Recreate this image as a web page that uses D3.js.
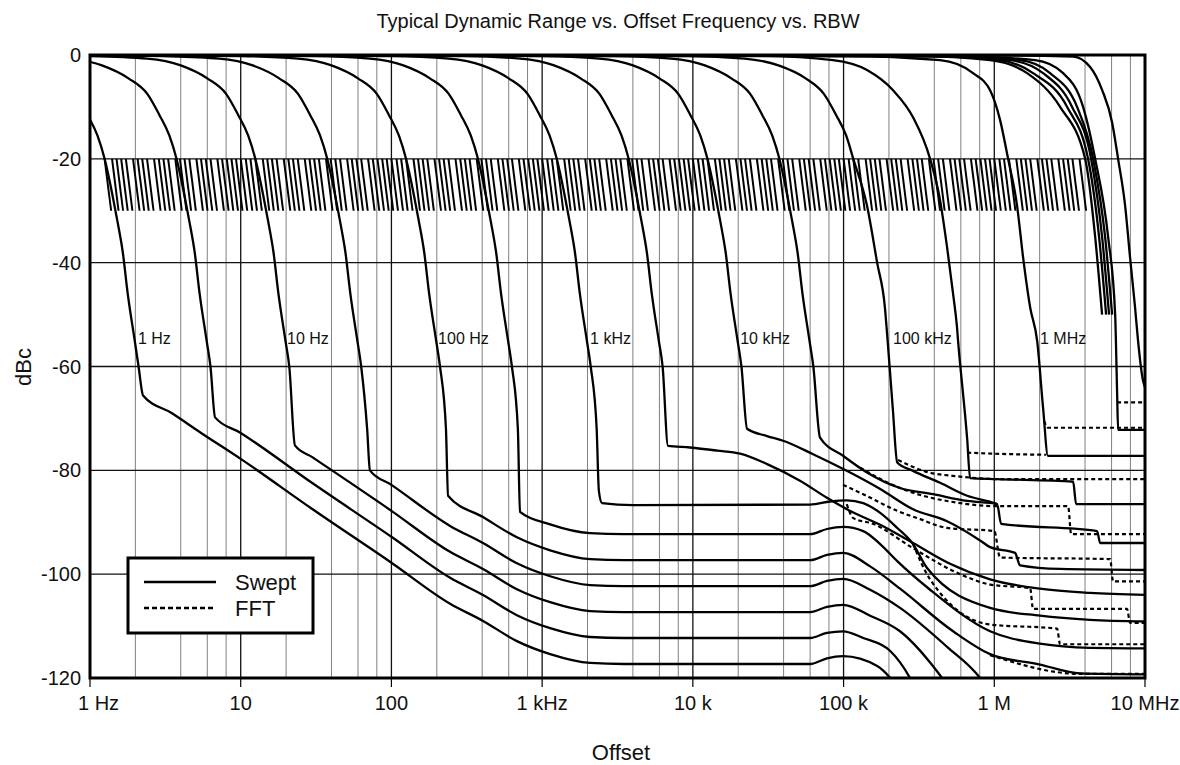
<!DOCTYPE html>
<html>
<head>
<meta charset="utf-8">
<script src="https://cdn.jsdelivr.net/npm/d3@7"></script>
<style>
  body { margin: 0; background: #fff; }
  svg { display: block; font-family: Arial, "Liberation Sans", sans-serif; }
</style>
</head>
<body>
<div id="chart"></div>
<script>
// ---- data: [offset Hz, dBc] ----
const swept1Hz = [[0.1,-0.2],[0.24,-0.7],[0.4,-2],[0.6,-4.5],[0.8,-7.5],[0.96,-11.5],[1.12,-15.5],[1.25,-20],[1.41,-27],[1.52,-32],[1.65,-38],[1.78,-46],[1.98,-55],[2.1,-60],[2.25,-65.6],
  [3.5,-69],[5.4,-72.7],[10,-77.8],[30,-87.5],[100,-97.8],[245,-105.7],[405,-109],[680,-112.9],[1130,-115.4],[2080,-117.1],[3500,-117.3],[60000,-117.3],[77600,-116.2],[99300,-115.8],[167000,-117.7],[204000,-120],[230000,-122]];
const swept3Hz = [[0.3,-0.2],[0.72,-0.7],[1.2,-2],[1.8,-4.5],[2.4,-7.5],[2.88,-11.5],[3.36,-15.5],[3.75,-20],[4.23,-27],[4.56,-32],[4.95,-38],[5.34,-46],[5.94,-55],[6.3,-60],[6.76,-69.8],
  [10,-72.8],[30,-82.5],[100,-92.8],[245,-100.7],[405,-104],[680,-107.9],[1130,-110.4],[2080,-112.1],[3500,-112.3],[60000,-112.3],[77600,-111.3],[99300,-111],[135000,-112.3],[204000,-114.8],[276000,-120],[300000,-122]];
const swept10Hz = [[1,-0.2],[2.4,-0.7],[4,-2],[6,-4.5],[8,-7.5],[9.6,-11.5],[11.2,-15.5],[12.5,-20],[14.1,-27],[15.2,-32],[16.5,-38],[17.8,-46],[19.8,-55],[21,-60],[22.9,-75.2],
  [30,-77.5],[100,-87.8],[245,-95.7],[405,-99],[680,-102.9],[1130,-105.4],[2080,-107.1],[3500,-107.3],[60000,-107.3],[77600,-106.3],[99300,-105.9],[150000,-108],[237000,-111],[375000,-117],[450000,-120],[500000,-122]];
const swept30Hz = [[1,0],[3,-0.2],[7.2,-0.7],[12,-2],[18,-4.5],[24,-7.5],[28.8,-11.5],[33.6,-15.5],[37.5,-20],[42.3,-27],[45.6,-32],[49.5,-38],[53.4,-46],[59.4,-55],[63,-60],[69,-72],[72,-80],
  [100,-82.8],[245,-90.7],[405,-94],[680,-97.9],[1130,-100.4],[2080,-102.1],[3500,-102.3],[60000,-102.3],[77600,-101.3],[99300,-100.9],[150000,-103],[237000,-106.5],[486000,-114],[805000,-120],[900000,-122]];
const swept100Hz = [[1,0],[10,-0.2],[24,-0.7],[40,-2],[60,-4.5],[80,-7.5],[96,-11.5],[112,-15.5],[125,-20],[141,-27],[152,-32],[165,-38],[178,-46],[198,-55],[210,-60],[230,-72],[237.6,-84.9],
  [405,-89],[680,-92.9],[1130,-95.4],[2080,-97.1],[3500,-97.3],[60000,-97.3],[77600,-96.3],[99300,-95.9],[150000,-98.5],[237000,-102.8],[533000,-111],[938000,-115.4],[2010000,-117.4],[3710000,-119.1],[10000000,-119.3]];
const swept300Hz = [[1,0],[30,-0.2],[72,-0.7],[120,-2],[180,-4.5],[240,-7.5],[288,-11.5],[336,-15.5],[375,-20],[423,-27],[456,-32],[495,-38],[534,-46],[594,-55],[630,-60],[690,-72],[713,-88],
  [1130,-90.4],[2080,-92.1],[3500,-92.3],[60000,-92.3],[77600,-91.3],[99300,-90.9],[135000,-91.7],[175000,-94.2],[227000,-97.5],[375000,-103],[938000,-111],[2010000,-113.4],[4320000,-114.2],[10000000,-114.3]];
const swept1kHz = [[1,0],[100,-0.2],[240,-0.7],[400,-2],[600,-4.5],[800,-7.5],[960,-11.5],[1120,-15.5],[1250,-20],[1410,-27],[1520,-32],[1650,-38],[1780,-46],[1980,-55],[2100,-60],[2300,-72],[2380,-84],[2496,-86.3],
  [4000,-86.7],[60000,-86.6],[81300,-86],[105000,-85.8],[135000,-86.3],[175000,-88.2],[227000,-91.1],[289000,-94.2],[358000,-98.8],[938000,-106.5],[2010000,-108],[4320000,-108.8],[10000000,-109.1]];
const swept3kHz = [[1,0],[300,-0.2],[720,-0.7],[1200,-2],[1800,-4.5],[2400,-7.5],[2880,-11.5],[3360,-15.5],[3750,-20],[4230,-27],[4560,-32],[4950,-38],[5340,-46],[5940,-55],[6300,-60],[6840,-75.3],
  [9570,-75.6],[14500,-76.2],[20600,-76.8],[31100,-78.8],[51400,-82],[77600,-85.3],[110000,-87.8],[175000,-90.5],[289000,-94],[509000,-98],[938000,-101],[2010000,-102.8],[4320000,-103.6],[10000000,-104]];
const swept10kHz = [[1,0],[1000,-0.2],[2400,-0.7],[4000,-2],[6000,-4.5],[8000,-7.5],[9600,-11.5],[11200,-15.5],[12500,-20],[14100,-27],[15200,-32],[16500,-38],[17800,-46],[19800,-55],[21000,-60],[22900,-72],
  [31100,-73.4],[39700,-74.3],[62800,-76.9],[105000,-80.1],[175000,-83.6],[289000,-87.5],[486000,-89.8],[805000,-93.5],[938000,-94.8],[1374000,-95.9],[1483000,-98.3],[2733000,-99],[10000000,-99.2]];
const swept30kHz = [[1,0],[3000,-0.2],[7200,-0.7],[12000,-2],[18000,-4.5],[24000,-7.5],[28800,-11.5],[33600,-15.5],[37500,-20],[42300,-27],[45600,-32],[49500,-38],[53400,-46],[59400,-55],[63000,-60],[69800,-73.7],
  [99300,-77.2],[143000,-80.4],[237000,-83.4],[393000,-84.6],[661000,-85.9],[1044000,-86.5],[1110000,-90.3],[4810000,-91.7],[5040000,-94],[10000000,-94]];
const swept100kHz = [[1,0],[9300,-0.2],[22000,-0.7],[37000,-2],[56000,-4.5],[74000,-7.5],[89000,-11.5],[104000,-15.5],[116000,-20],[143000,-29],[167000,-40],[188000,-48.6],[196000,-55],[212000,-68],[227000,-78.5],
  [289000,-80.1],[437000,-82.4],[661000,-84.9],[1000000,-86.3],[1044000,-86.5]];
const swept300kHz = [[1,0],[30000,-0.2],[85000,-1],[143000,-2.9],[213000,-6.8],[289000,-12],[375000,-20],[437000,-28],[486000,-37],[533000,-46],[566000,-52.5],[575000,-55],[661000,-74],[691000,-81.5],
  [1044000,-81.7],[3337000,-82.2],[3490000,-86.5],[10000000,-86.5]];
const swept1MHz = [[1,0],[100000,-0.2],[437000,-1],[723000,-3.5],[938000,-6.8],[1092000,-12.5],[1235000,-20],[1416000,-29],[1553000,-39],[1729000,-48.6],[1924000,-55],[2108000,-68],[2270000,-77.2],[10000000,-77.2]];
const sweptWideA = [[1,0],[300000,-0.2],[938000,-1],[1651000,-3.5],[2733000,-10],[4008000,-20],[4669000,-35],[5190000,-50]];
const sweptWideB = [[1,0],[350000,-0.2],[1092000,-1],[1808000,-3.5],[3043000,-10],[4190000,-20],[4956000,-35],[5520000,-50]];
const sweptWideC = [[1,0],[400000,-0.2],[1273000,-1],[2108000,-3.5],[3284000,-10],[4390000,-20],[5190000,-35],[5775000,-50]];
const sweptWideD = [[1,0],[450000,-0.2],[1483000,-1],[2345000,-3.5],[3542000,-10],[4528000,-20],[5434000,-35],[6050000,-50]];
const sweptWideE = [[1,0],[550000,-0.2],[1866000,-1],[2864000,-3.5],[3883000,-10],[4669000,-20],[5690000,-35],[6338000,-50],[6530000,-65],[6630000,-72.2],[10000000,-72.2]];
const sweptWideF = [[1,0],[1000000,-0.1],[3337000,-0.3],[4323000,-2.3],[5190000,-6.7],[6050000,-13],[6630000,-20],[7380000,-29],[7960000,-39],[8590000,-48.6],[8990000,-55],[9700000,-62.7],[10000000,-64]];

const fft1kHz = [[289000,-94.2],[375000,-101],[938000,-109.7],[2610000,-110.5],[2733000,-113.5],[10000000,-113.5]];
const fft300Hz = [[938000,-115.6],[3710000,-119.2],[10000000,-119.2]];
const fft3kHz = [[105000,-86.5],[116000,-89.2],[157000,-90.3],[289000,-95],[593000,-100],[938000,-102],[1729000,-102.7],[1808000,-106.7],[7600000,-106.7],[7960000,-109.4],[10000000,-109.4]];
const fft10kHz = [[99300,-82.8],[135000,-84.6],[227000,-87.8],[322000,-89.4],[486000,-91.1],[1000000,-91.7],[1092000,-96.8],[5870000,-97.1],[6140000,-101.4],[10000000,-101.4]];
const fft30kHz = [[129000,-79.5],[204000,-82.6],[337000,-84.9],[486000,-85.9],[1044000,-86.9],[3090000,-86.9],[3236000,-92.3],[10000000,-92.3]];
const fft100kHz = [[230000,-78],[347000,-80.2],[593000,-81.2],[1092000,-81.7],[10000000,-81.7]];
const fft300kHz = [[661000,-76.6],[1000000,-76.8],[2207000,-77]];
const fft1MHz = [[2140000,-70.5],[2270000,-71.8],[10000000,-71.8]];
const fftWide = [[6530000,-66.9],[10000000,-66.9]];

// short skirt marks between -20 and -30 dBc, repeated each decade
const hatchMantissas = [1.00,1.08,1.16,1.25,1.40,1.50,1.61,1.73,1.93,2.07,2.22,2.39,2.66,2.86,3.07,3.30,3.68,3.95,4.24,4.56,5.08,5.45,5.86,6.30,7.00,7.52,8.08,8.68,9.30];
const hatchDecades = [1,10,100,1e3,1e4,1e5,1e6];

const rbwLabels = ["1 Hz","10 Hz","100 Hz","1 kHz","10 kHz","100 kHz","1 MHz"];
const rbwLabelFreqs = [2.08, 20.3, 204, 2080, 20600, 213000, 2010000];

const xTicks = [1,10,100,1e3,1e4,1e5,1e6,1e7];
const xTickLabels = ["1 Hz","10","100","1 kHz","10 k","100 k","1 M","10 MHz"];
const yTicks = [0,-20,-40,-60,-80,-100,-120];

const sweptCurves = [swept1Hz, swept3Hz, swept10Hz, swept30Hz, swept100Hz, swept300Hz, swept1kHz, swept3kHz,
  swept10kHz, swept30kHz, swept100kHz, swept300kHz, swept1MHz, sweptWideA, sweptWideB, sweptWideC, sweptWideD, sweptWideE, sweptWideF];
const fftCurves = [fft1kHz, fft300Hz, fft3kHz, fft10kHz, fft30kHz, fft100kHz, fft300kHz, fft1MHz, fftWide];

// ---- layout ----
const width = 1180, height = 765;
const x = d3.scaleLog().domain([1, 1e7]).range([90, 1145]);
const y = d3.scaleLinear().domain([-120, 0]).range([678, 55]);

const svg = d3.select("#chart").append("svg")
    .attr("width", width)
    .attr("height", height);

svg.append("defs").append("clipPath")
    .attr("id", "plot-clip")
  .append("rect")
    .attr("x", 90)
    .attr("y", 55)
    .attr("width", 1055)
    .attr("height", 623);

// grid
const minorValues = [];
hatchDecades.forEach(d => [2, 4, 6, 8].forEach(m => minorValues.push(d * m)));

svg.append("g").selectAll("line")
    .data(minorValues)
    .enter()
    .append("line")
    .attr("x1", d => x(d)).attr("x2", d => x(d))
    .attr("y1", y(0)).attr("y2", y(-120))
    .attr("stroke", "#808080")
    .attr("stroke-width", 1);

svg.append("g").selectAll("line")
    .data(xTicks)
    .enter()
    .append("line")
    .attr("x1", d => x(d)).attr("x2", d => x(d))
    .attr("y1", y(0)).attr("y2", y(-120))
    .attr("stroke", "#111")
    .attr("stroke-width", 1.3);

svg.append("g").selectAll("line")
    .data(yTicks)
    .enter()
    .append("line")
    .attr("x1", x(1)).attr("x2", x(1e7))
    .attr("y1", d => y(d)).attr("y2", d => y(d))
    .attr("stroke", "#111")
    .attr("stroke-width", 1.3);

const plot = svg.append("g").attr("clip-path", "url(#plot-clip)");

// hatch marks
const hatchStarts = [];
hatchDecades.forEach(d => hatchMantissas.forEach(m => {
    const f = d * m;
    if (f >= 1.25 && f <= 3.8e6) hatchStarts.push(f);
}));

plot.append("g").selectAll("line")
    .data(hatchStarts)
    .enter()
    .append("line")
    .attr("x1", d => x(d)).attr("y1", y(-20))
    .attr("x2", d => x(d * 1.105)).attr("y2", y(-30))
    .attr("stroke", "#000")
    .attr("stroke-width", 2);

const line = d3.line()
    .x(d => x(d[0]))
    .y(d => y(d[1]))
    .curve(d3.curveMonotoneX);

plot.append("g").selectAll("path")
    .data(fftCurves)
    .enter()
    .append("path")
    .attr("d", line)
    .attr("fill", "none")
    .attr("stroke", "#000")
    .attr("stroke-width", 2.2)
    .attr("stroke-dasharray", "4,3");

plot.append("g").selectAll("path")
    .data(sweptCurves)
    .enter()
    .append("path")
    .attr("d", line)
    .attr("fill", "none")
    .attr("stroke", "#000")
    .attr("stroke-width", 2.3)
    .attr("stroke-linejoin", "round");

// RBW labels
svg.append("g").selectAll("text")
    .data(rbwLabels)
    .enter()
    .append("text")
    .attr("x", (d, i) => x(rbwLabelFreqs[i]))
    .attr("y", y(-54.5))
    .attr("dy", "0.35em")
    .attr("font-size", 16)
    .attr("fill", "#111")
    .text(d => d);

// frame
svg.append("rect")
    .attr("x", 90).attr("y", 55)
    .attr("width", 1055).attr("height", 623)
    .attr("fill", "none")
    .attr("stroke", "#000")
    .attr("stroke-width", 3);

// x ticks + labels
svg.append("g").selectAll("line")
    .data(xTicks)
    .enter()
    .append("line")
    .attr("x1", d => x(d)).attr("x2", d => x(d))
    .attr("y1", 678).attr("y2", 687)
    .attr("stroke", "#000")
    .attr("stroke-width", 1.2);

svg.append("g").selectAll("text")
    .data(xTickLabels)
    .enter()
    .append("text")
    .attr("x", (d, i) => i === 0 ? x(xTicks[i]) - 12 : x(xTicks[i]))
    .attr("y", 710)
    .attr("text-anchor", (d, i) => i === 0 ? "start" : "middle")
    .attr("font-size", 20)
    .attr("fill", "#111")
    .text(d => d);

svg.append("g").selectAll("text")
    .data(yTicks)
    .enter()
    .append("text")
    .attr("x", 81)
    .attr("y", d => y(d))
    .attr("dy", "0.35em")
    .attr("text-anchor", "end")
    .attr("font-size", 20)
    .attr("fill", "#111")
    .text(d => d);

// legend
const legend = svg.append("g");
legend.append("rect")
    .attr("x", 128).attr("y", 558)
    .attr("width", 185).attr("height", 75)
    .attr("fill", "#fff")
    .attr("stroke", "#000")
    .attr("stroke-width", 3);
legend.append("line")
    .attr("x1", 144).attr("x2", 216)
    .attr("y1", 582).attr("y2", 582)
    .attr("stroke", "#000").attr("stroke-width", 2.5);
legend.append("line")
    .attr("x1", 144).attr("x2", 216)
    .attr("y1", 608).attr("y2", 608)
    .attr("stroke", "#000").attr("stroke-width", 2.5)
    .attr("stroke-dasharray", "5,3");
legend.append("text")
    .attr("x", 235).attr("y", 590)
    .attr("font-size", 22).attr("fill", "#111")
    .text("Swept");
legend.append("text")
    .attr("x", 235).attr("y", 616)
    .attr("font-size", 22).attr("fill", "#111")
    .text("FFT");

// titles
svg.append("text")
    .attr("x", 618).attr("y", 28)
    .attr("text-anchor", "middle")
    .attr("font-size", 20)
    .attr("fill", "#111")
    .text("Typical Dynamic Range vs. Offset Frequency vs. RBW");

svg.append("text")
    .attr("x", 621).attr("y", 760)
    .attr("text-anchor", "middle")
    .attr("font-size", 22)
    .attr("fill", "#111")
    .text("Offset");

svg.append("text")
    .attr("transform", "translate(31,367) rotate(-90)")
    .attr("text-anchor", "middle")
    .attr("font-size", 22)
    .attr("fill", "#111")
    .text("dBc");
</script>
</body>
</html>
